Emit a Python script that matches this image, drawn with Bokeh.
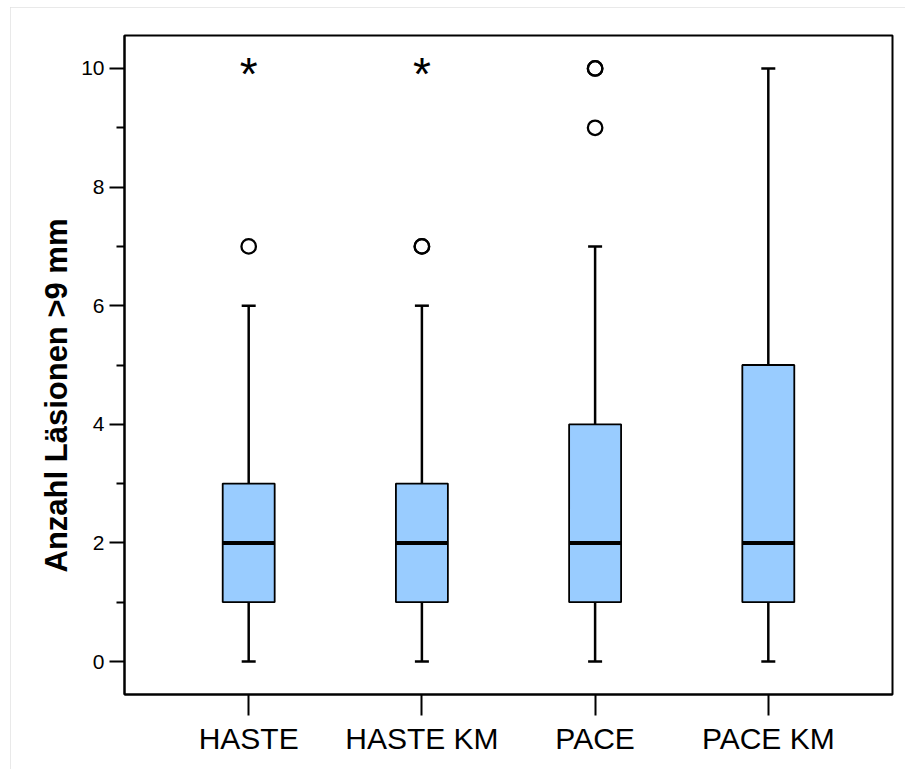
from bokeh.plotting import figure
from bokeh.models import FactorRange, FixedTicker, ColumnDataSource, Title
from bokeh.core.properties import value
from bokeh.embed import file_html
from bokeh.resources import INLINE

categories = ["HASTE", "HASTE KM", "PACE", "PACE KM"]
whisker_low = [0, 0, 0, 0]
q1 = [1, 1, 1, 1]
median = [2, 2, 2, 2]
q3 = [3, 3, 4, 5]
whisker_high = [6, 6, 7, 10]

outlier_cat = ["HASTE", "HASTE KM", "HASTE KM", "PACE", "PACE", "PACE"]
outlier_val = [7, 7, 7, 10, 10, 9]

extreme_cat = ["HASTE", "HASTE KM"]
extreme_val = [10, 10]

y_ticks = [0, 2, 4, 6, 8, 10]
y_minor = [1, 3, 5, 7, 9]
y_title = "Anzahl Läsionen >9 mm"

FONT = "Liberation Sans"

p = figure(width=895, height=762, output_backend="svg", toolbar_location=None,
           x_range=FactorRange(*categories, range_padding=0.1085),
           y_range=(-0.556, 10.556),
           min_border_left=114, min_border_top=28, min_border_right=13,
           min_border_bottom=75)
p.margin = (7, 0, 0, 10)
p.styles = {"outline": "1px solid #e2e2e2", "outline-offset": "-1px"}
p.xgrid.visible = False
p.ygrid.visible = False
p.outline_line_color = "black"
p.outline_line_width = 2

src = ColumnDataSource(dict(cat=categories, lo=whisker_low, q1=q1, med=median,
                            q3=q3, hi=whisker_high))

# whiskers
p.segment(x0="cat", y0="q3", x1="cat", y1="hi", source=src, line_color="black", line_width=2.5)
p.segment(x0="cat", y0="q1", x1="cat", y1="lo", source=src, line_color="black", line_width=2.5)
p.scatter(x="cat", y="hi", source=src, marker="dash", size=14, line_color="black", line_width=2.5)
p.scatter(x="cat", y="lo", source=src, marker="dash", size=14, line_color="black", line_width=2.5)

# boxes
p.vbar(x="cat", bottom="q1", top="q3", width=0.3, source=src,
       fill_color="#99CCFF", line_color="black", line_width=1.8)
p.rect(x="cat", y="med", width=0.3, height=4, height_units="screen", source=src,
       fill_color="black", line_color=None)

# outliers
p.scatter(x=outlier_cat, y=outlier_val, marker="circle", size=14.5,
          fill_color="white", fill_alpha=0, line_color="black", line_width=2.3)

# extremes
p.text(x=extreme_cat, y=extreme_val, text=["*", "*"], text_font=value(FONT),
       text_font_size="46px", text_align="center", text_baseline="alphabetic",
       y_offset=6, text_color="black")

# y axis title as a side title (allows an offset like the original)
p.add_layout(Title(text=y_title, align="left", offset=122, standoff=10,
                   text_font=FONT, text_font_style="bold", text_font_size="31px",
                   text_color="black"), "left")

# y axis
ya = p.yaxis[0]
ya.ticker = FixedTicker(ticks=y_ticks, minor_ticks=y_minor)
ya.major_label_text_font = FONT
ya.major_label_text_font_size = "21px"
ya.major_label_text_color = "black"
ya.major_label_standoff = 5
ya.major_tick_out = 15
ya.major_tick_in = 0
ya.minor_tick_out = 8
ya.minor_tick_in = 0
ya.major_tick_line_width = 2
ya.minor_tick_line_width = 2
ya.axis_line_width = 2
ya.major_tick_line_color = "black"
ya.minor_tick_line_color = "black"
ya.axis_line_color = "black"

# x axis
xa = p.xaxis[0]
xa.major_label_text_font = FONT
xa.major_label_text_font_size = "30px"
xa.major_label_text_color = "black"
xa.major_label_standoff = 6
xa.major_tick_out = 21
xa.major_tick_in = 0
xa.major_tick_line_width = 2
xa.major_tick_line_color = "black"
xa.axis_line_width = 2
xa.axis_line_color = "black"

open("out.html", "w").write(file_html(p, INLINE))
